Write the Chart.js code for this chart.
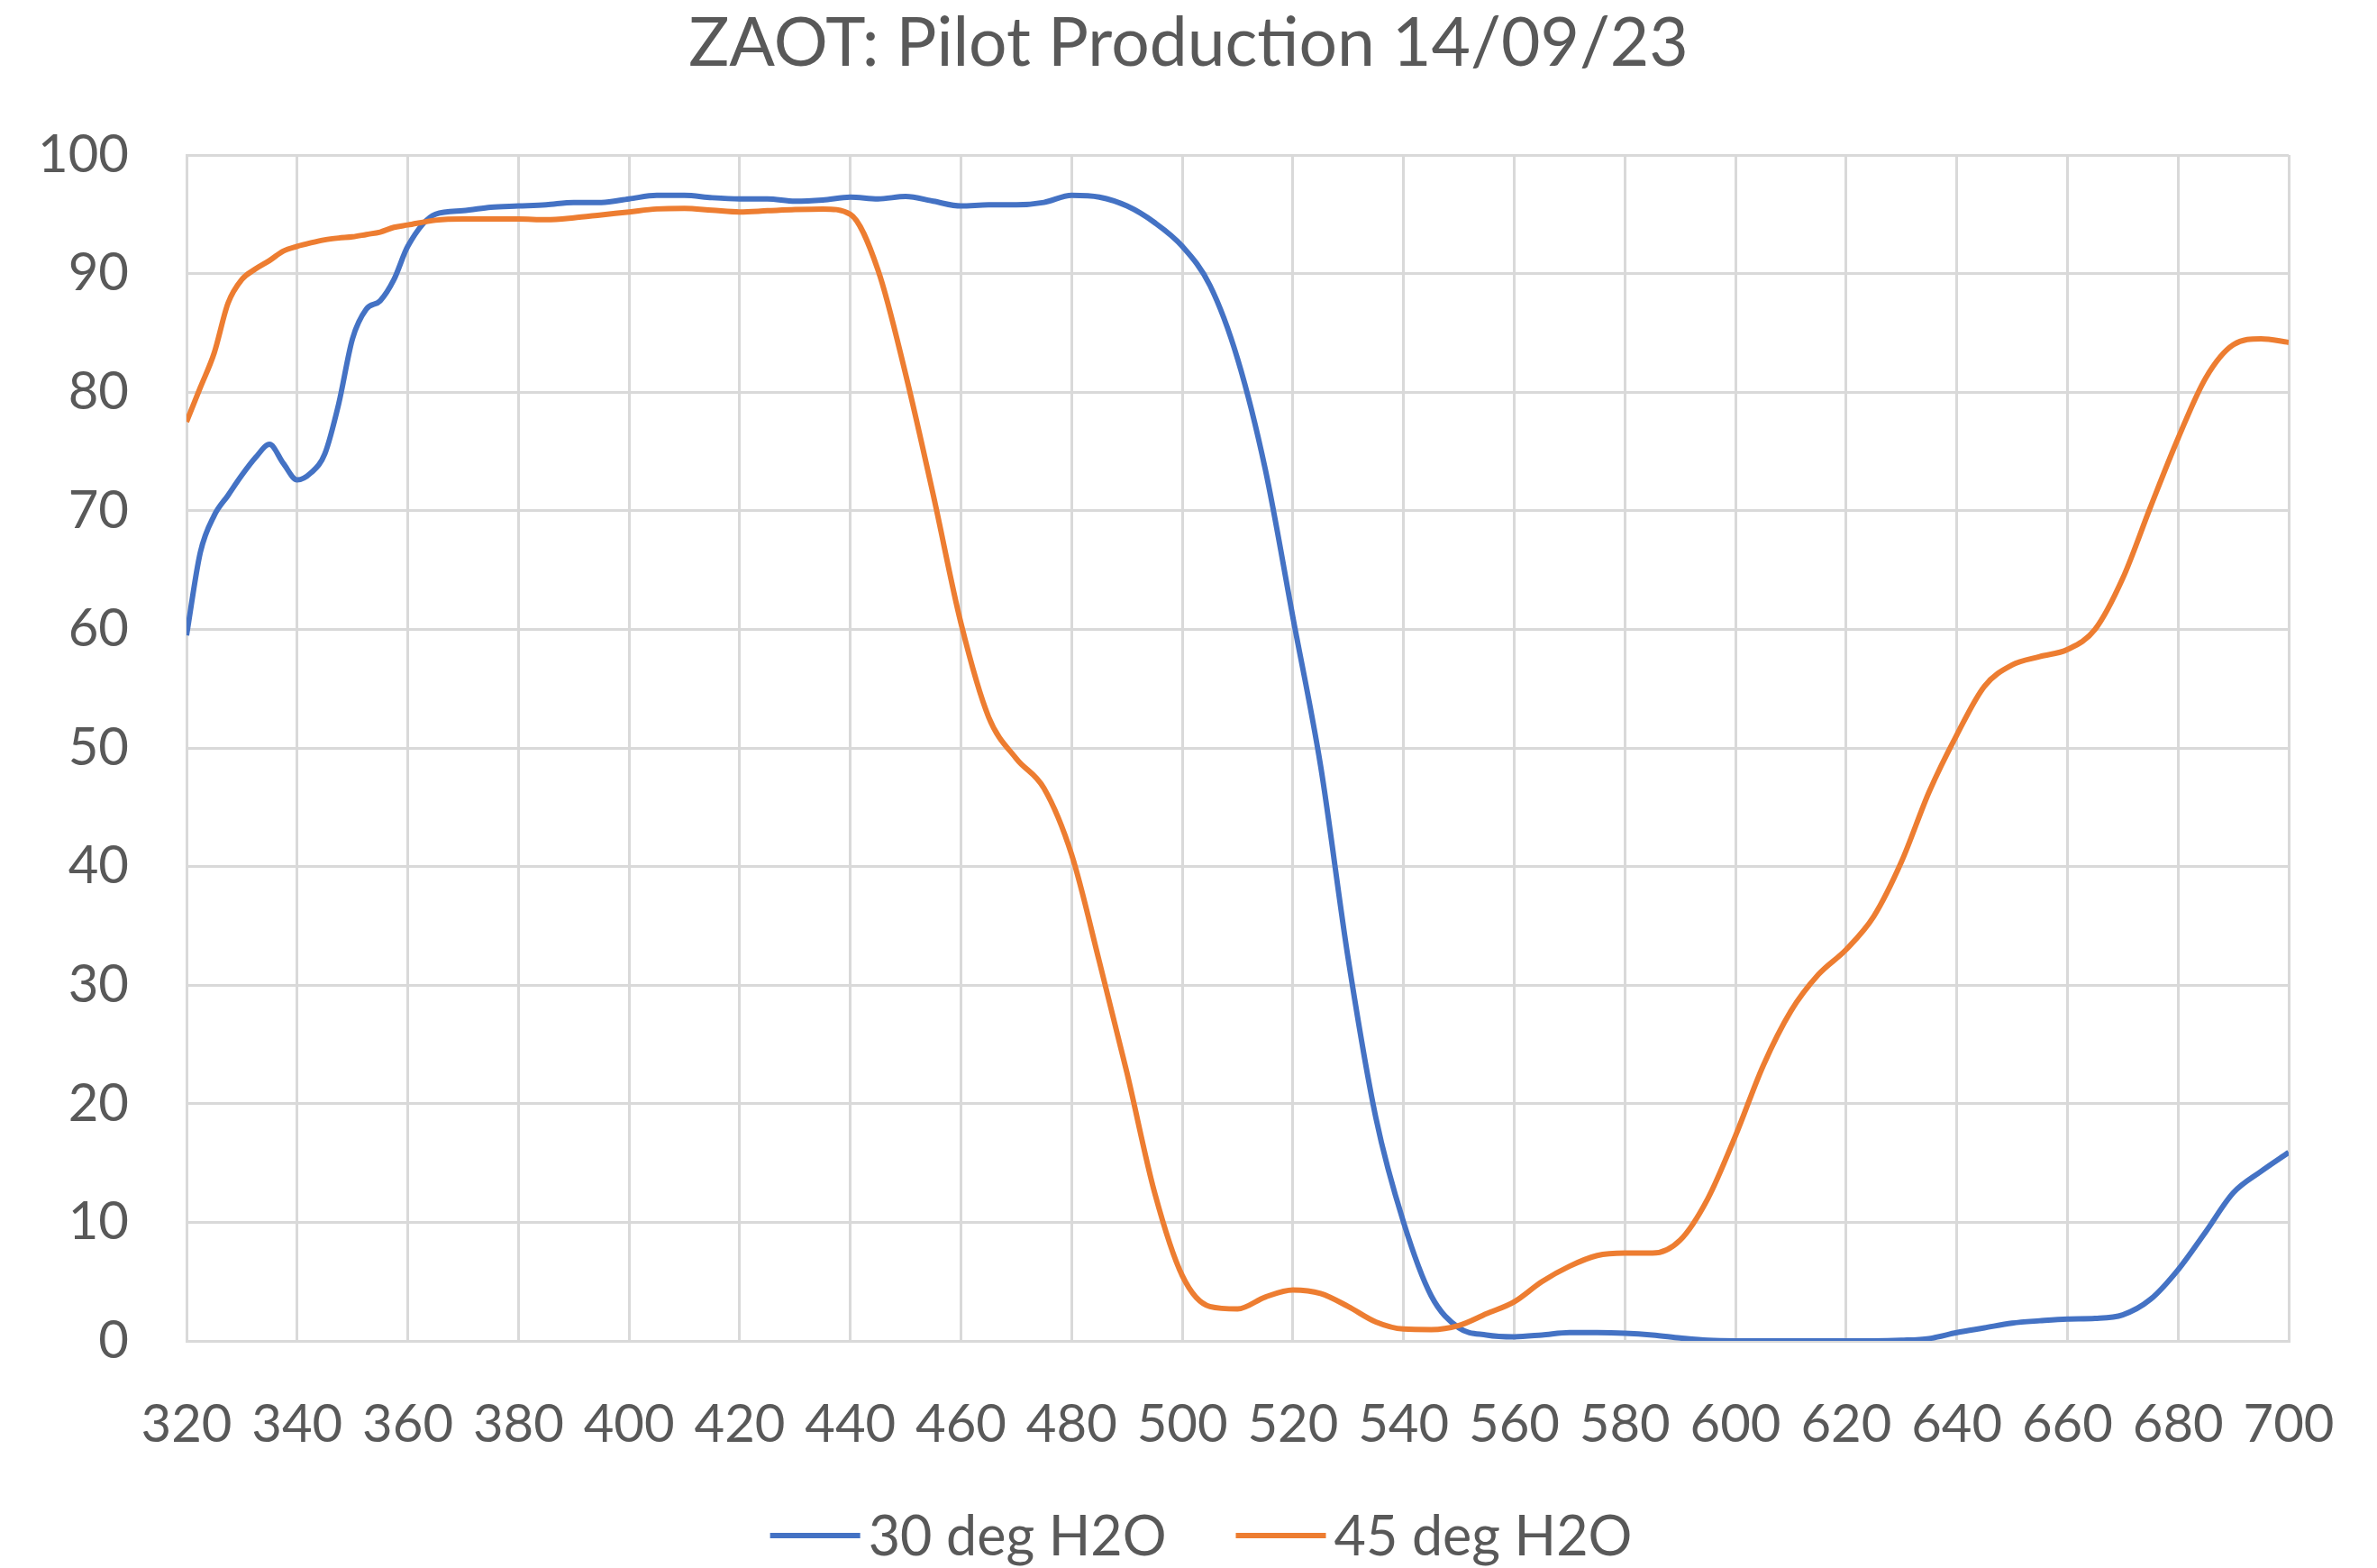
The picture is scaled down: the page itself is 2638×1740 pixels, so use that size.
<!DOCTYPE html>
<html>
<head>
<meta charset="utf-8">
<script src="https://cdn.jsdelivr.net/npm/chart.js@4.4.0/dist/chart.umd.min.js"></script>
<style>
  html, body { margin: 0; padding: 0; background: #fff; }
</style>
</head>
<body>
<canvas id="chart" width="2638" height="1740"></canvas>
<script>
// wavelength (nm), finer steps where the 30 deg curve wiggles
var wavelengths = [320, 322.5, 325, 327.5, 330, 332.5, 335, 337.5, 340, 342.5, 345, 347.5,
  350, 352.5, 355, 357.5, 360, 365, 370, 375, 380, 385, 390, 395, 400, 405, 410, 415,
  420, 425, 430, 435, 440, 445, 450, 455, 460, 465, 470, 475, 480, 485, 490, 495, 500,
  505, 510, 515, 520, 525, 530, 535, 540, 545, 550, 555, 560, 565, 570, 575, 580, 585,
  590, 595, 600, 605, 610, 615, 620, 625, 630, 635, 640, 645, 650, 655, 660, 665, 670,
  675, 680, 685, 690, 695, 700];

var deg30 = [59.5, 66.5, 69.6, 71.3, 73.0, 74.5, 75.6, 74.0, 72.6, 73.2, 74.8, 79.0,
  84.5, 87.0, 87.7, 89.5, 92.3, 95.0, 95.3, 95.6, 95.7, 95.8, 96.0, 96.0, 96.3, 96.6, 96.6, 96.4,
  96.3, 96.3, 96.1, 96.2, 96.45, 96.3, 96.5, 96.1, 95.7, 95.8, 95.8, 96.0, 96.6, 96.45, 95.7, 94.3, 92.3,
  89.0, 82.8, 73.5, 61.0, 48.5, 32.2, 18.8, 10.0, 3.8, 1.1, 0.5, 0.35, 0.5, 0.7, 0.7, 0.65, 0.5,
  0.25, 0.05, 0, 0, 0, 0, 0, 0, 0.05, 0.2, 0.7, 1.1, 1.5, 1.7, 1.85, 1.9, 2.2,
  3.5, 6.0, 9.2, 12.5, 14.3, 15.9];

var deg45 = [77.5, 80.4, 83.3, 87.5, 89.5, 90.4, 91.1, 91.9, 92.3, 92.6, 92.85, 93.0,
  93.1, 93.3, 93.5, 93.9, 94.1, 94.5, 94.6, 94.6, 94.6, 94.55, 94.7, 94.95, 95.2, 95.45, 95.5, 95.35,
  95.2, 95.3, 95.4, 95.45, 95.0, 90.3, 81.5, 71.3, 60.5, 52.6, 49.1, 46.6, 41.0, 32.0, 22.6, 12.5, 5.5,
  2.9, 2.7, 3.7, 4.3, 4.0, 2.9, 1.6, 1.0, 0.95, 1.3, 2.3, 3.3, 5.0, 6.3, 7.2, 7.4, 7.4,
  8.5, 12.0, 17.3, 23.2, 27.8, 30.9, 33.0, 35.8, 40.4, 46.3, 51.1, 55.2, 57.0, 57.7, 58.3, 60.0, 64.3,
  70.3, 76.1, 81.2, 84.0, 84.5, 84.2];

var seriesNames = ['30 deg H2O', '45 deg H2O'];
var seriesColors = ['#4472C4', '#ED7D31'];
var xTicks = { min: 320, max: 700, step: 20 };
var yTicks = { min: 0, max: 100, step: 10 };

function toPoints(values) {
  return wavelengths.map(function (w, i) { return { x: w, y: values[i] }; });
}

var textColor = '#595959';
var gridColor = '#d9d9d9';
var fontFamily = 'Lato, "Open Sans", sans-serif';

// legend drawn under the axis: short line then label, roughly centred on the canvas
var bottomLegend = {
  id: 'bottomLegend',
  afterDraw: function (c) {
    var ctx = c.ctx;
    var sets = c.data.datasets;
    var lineW = 100, textGap = 9, itemGap = 77, y = 1704;
    ctx.save();
    ctx.font = '61px ' + fontFamily;
    ctx.textBaseline = 'middle';
    var widths = sets.map(function (d) { return ctx.measureText(d.label).width; });
    var total = 0;
    widths.forEach(function (w, i) { total += lineW + textGap + w + (i ? itemGap : 0); });
    var x = c.width / 2 + 14 - total / 2;
    sets.forEach(function (d, i) {
      ctx.strokeStyle = d.borderColor;
      ctx.lineWidth = d.borderWidth;
      ctx.beginPath();
      ctx.moveTo(x, y);
      ctx.lineTo(x + lineW, y);
      ctx.stroke();
      ctx.fillStyle = textColor;
      ctx.fillText(d.label, x + lineW + textGap, y + 2);
      x += lineW + textGap + widths[i] + itemGap;
    });
    ctx.restore();
  }
};

var chart = new Chart(document.getElementById('chart'), {
  type: 'line',
  data: {
    datasets: [{
      label: seriesNames[0],
      data: toPoints(deg30),
      borderColor: seriesColors[0],
      backgroundColor: seriesColors[0],
      borderWidth: 6,
      pointRadius: 0,
      cubicInterpolationMode: 'monotone',
      order: 1
    }, {
      label: seriesNames[1],
      data: toPoints(deg45),
      borderColor: seriesColors[1],
      backgroundColor: seriesColors[1],
      borderWidth: 6,
      pointRadius: 0,
      cubicInterpolationMode: 'monotone',
      order: 0
    }]
  },
  options: {
    responsive: false,
    animation: false,
    layout: { padding: 0 },
    plugins: {
      title: {
        display: true,
        text: 'ZAOT: Pilot Production 14/09/23',
        color: textColor,
        font: { family: fontFamily, size: 75, weight: 'normal' },
        padding: { top: 4, bottom: 78 }
      },
      legend: { display: false },
      tooltip: { enabled: false }
    },
    scales: {
      x: {
        type: 'linear',
        min: xTicks.min,
        max: xTicks.max,
        ticks: {
          stepSize: xTicks.step,
          color: textColor,
          font: { family: fontFamily, size: 58 },
          padding: 47,
          maxRotation: 0,
          autoSkip: false
        },
        // invisible tick marks only push the labels down
        grid: { color: gridColor, lineWidth: 3, drawTicks: true, tickLength: 11, tickColor: 'rgba(0,0,0,0)' },
        border: { color: gridColor, width: 3 },
        afterFit: function (s) { s.height = 252; }
      },
      y: {
        min: yTicks.min,
        max: yTicks.max,
        ticks: {
          stepSize: yTicks.step,
          color: textColor,
          font: { family: fontFamily, size: 58 },
          padding: 64
        },
        grid: { color: gridColor, lineWidth: 3, drawTicks: false },
        border: { color: gridColor, width: 3 },
        afterFit: function (s) { s.width = 207; }
      },
      // empty right-hand strip so the title stays centred on the whole canvas
      yRight: {
        position: 'right',
        display: true,
        ticks: { display: false },
        grid: { display: false },
        border: { display: false },
        afterFit: function (s) { s.width = 98; }
      }
    }
  },
  plugins: [bottomLegend]
});
</script>
</body>
</html>
